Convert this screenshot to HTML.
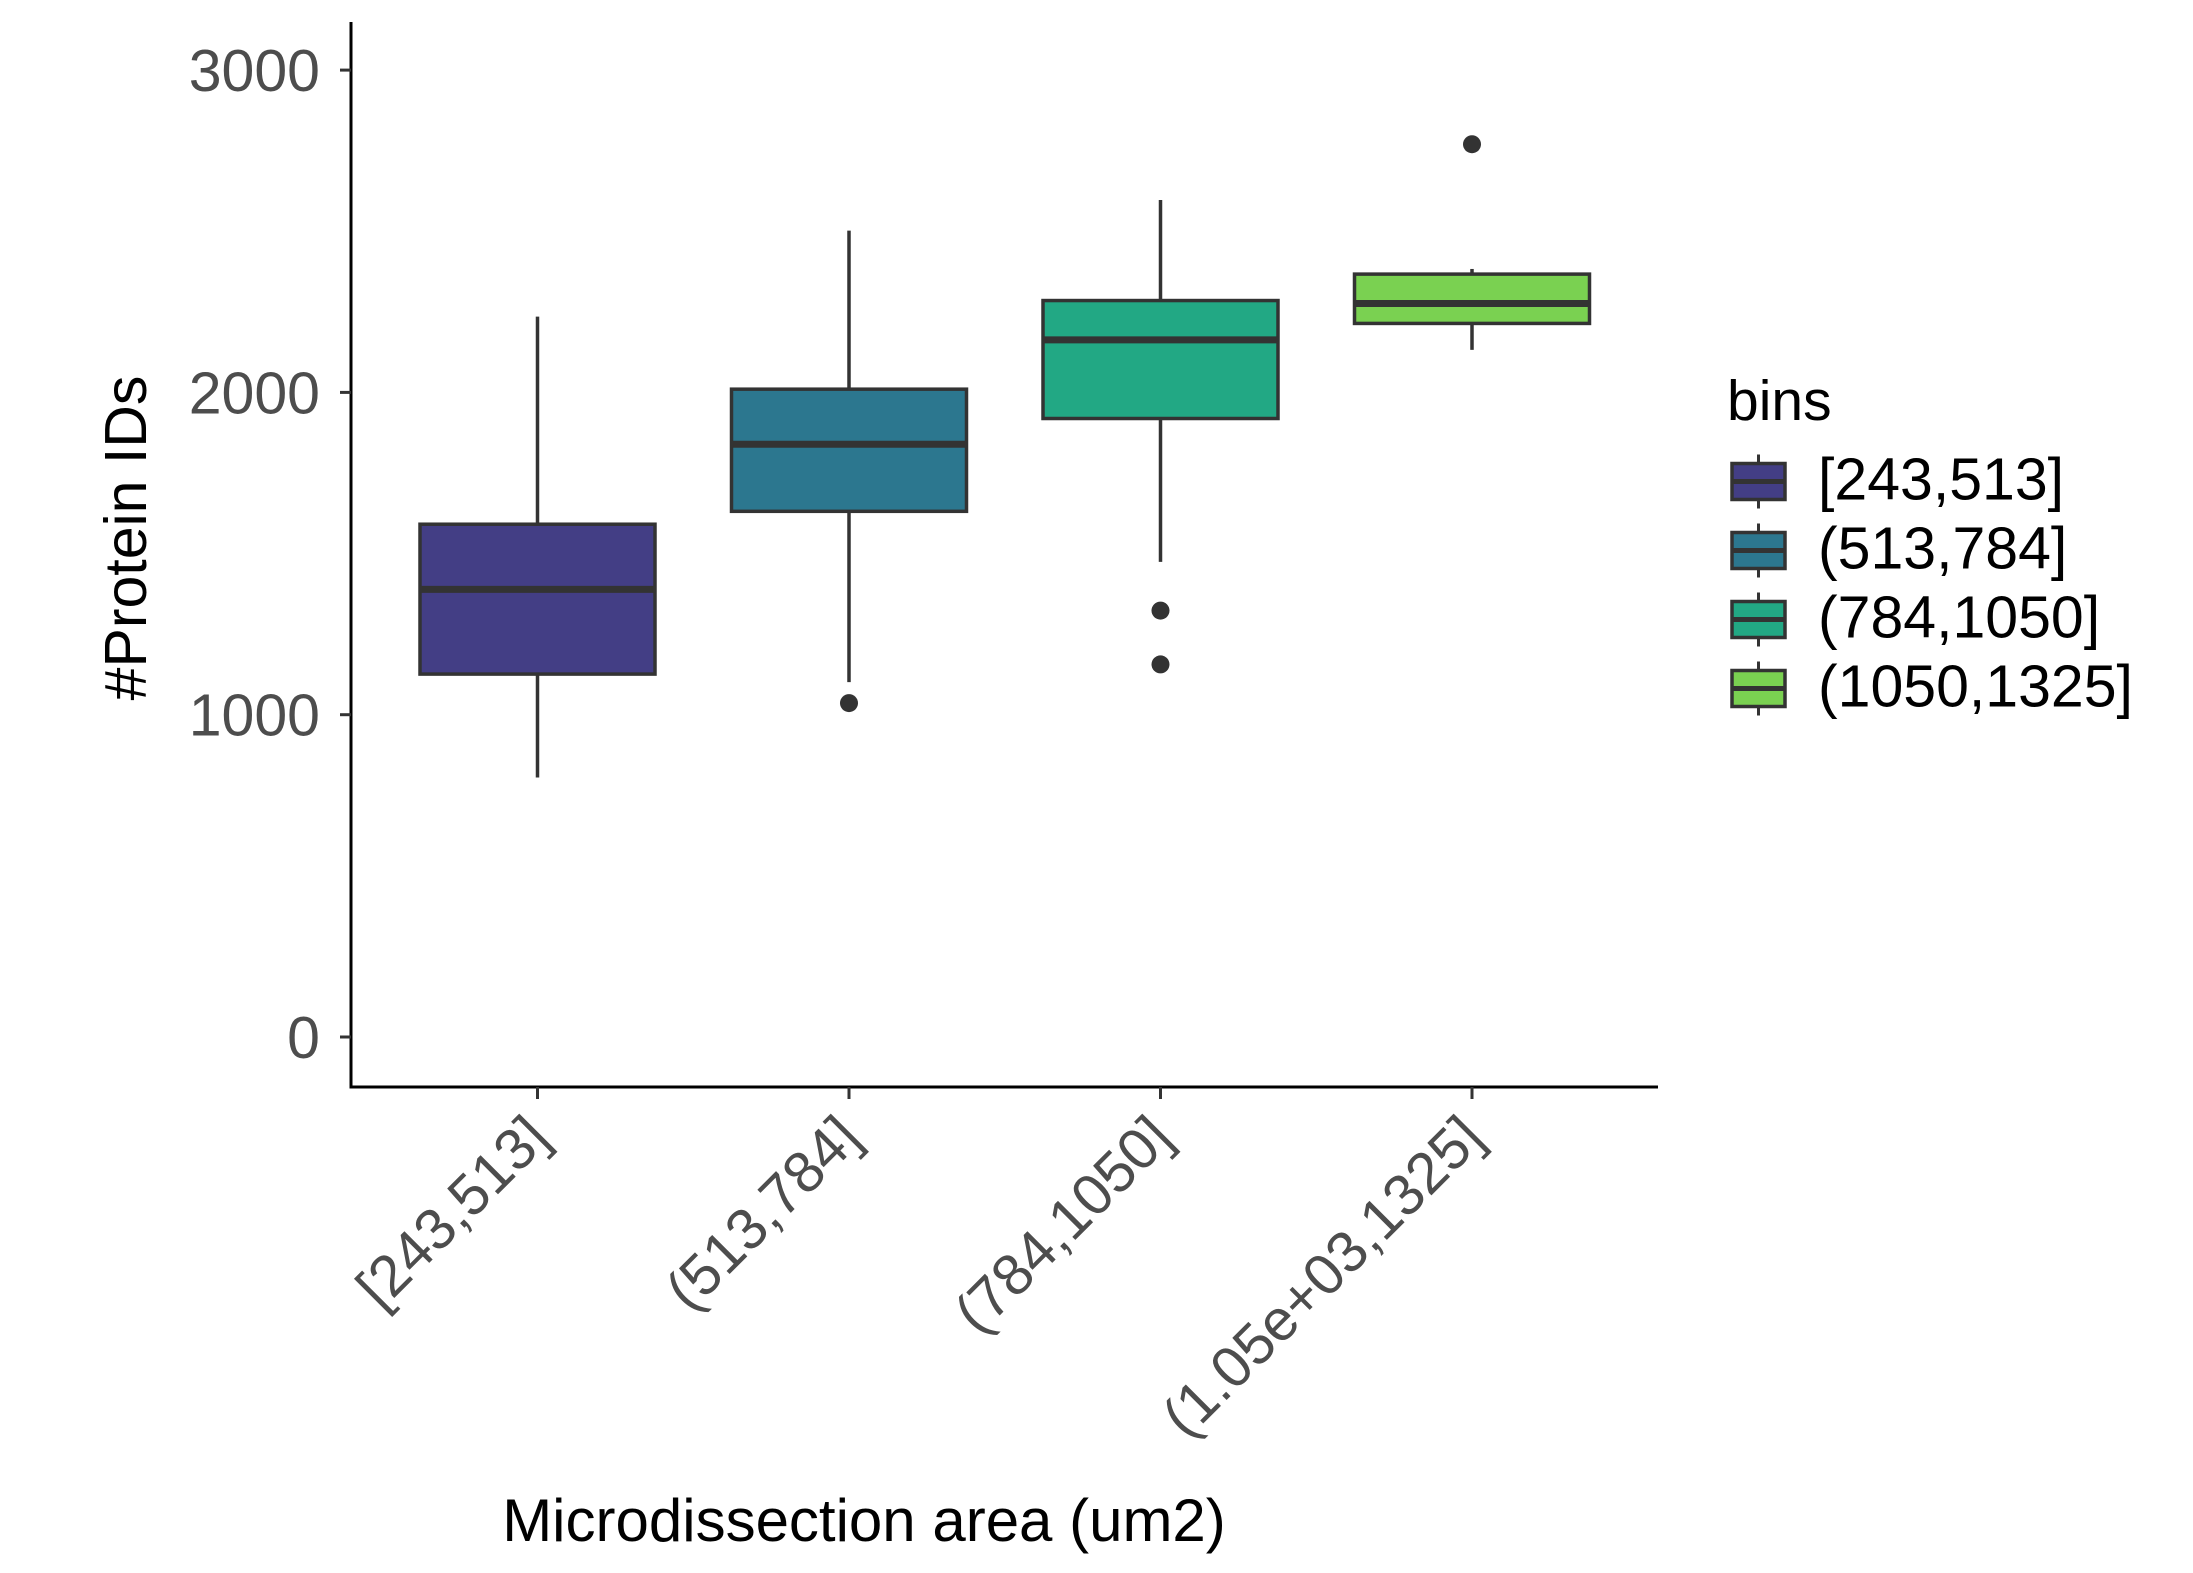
<!DOCTYPE html>
<html><head><meta charset="utf-8"><style>
html,body{margin:0;padding:0;background:#fff;}
svg{display:block;font-family:"Liberation Sans",Arial,sans-serif;}
</style></head><body>
<svg id="chart" width="2193" height="1573" viewBox="0 0 2193 1573">
<rect width="2193" height="1573" fill="#fff"/>
<g id="plot"></g>
<g id="axes"></g>
<g id="legend"></g>
</svg>
<script>
const categories = ["[243,513]", "(513,784]", "(784,1050]", "(1.05e+03,1325]"];
const legendLabels = ["[243,513]", "(513,784]", "(784,1050]", "(1050,1325]"];
const colors = ["#433e85", "#2c778f", "#22a884", "#7ad151"];
const whiskerLow = [805, 1101, 1474, 2132];
const q1 = [1126, 1631, 1919, 2214];
const medians = [1389, 1839, 2163, 2276];
const q3 = [1591, 2010, 2285, 2367];
const whiskerHigh = [2235, 2502, 2597, 2383];
const outliers = [[], [1036], [1323, 1156], [2770]];
const yTicks = [0, 1000, 2000, 3000];

const NS = "http://www.w3.org/2000/svg";
function mk(tag, attrs, parent, text) {
  const e = document.createElementNS(NS, tag);
  for (const k in attrs) e.setAttribute(k, attrs[k]);
  if (text !== undefined) e.textContent = text;
  parent.appendChild(e);
  return e;
}
const X0 = 351, X1 = 1658, Y0 = 22, YB = 1087;
const xScale = i => 537.5 + i * 311.5;
const yScale = v => 1037 - v * 0.3223;
const boxW = 235;
const plot = document.getElementById('plot');
const axes = document.getElementById('axes');
const legend = document.getElementById('legend');

categories.forEach((c, i) => {
  const cx = xScale(i);
  const g = mk('g', {}, plot);
  
  
  const w1 = mk('line', {x1: cx, x2: cx, y1: yScale(whiskerHigh[i]), y2: yScale(q3[i]), stroke: '#333', 'stroke-width': 3.5}, g);
  
  
  const w2 = mk('line', {x1: cx, x2: cx, y1: yScale(q1[i]), y2: yScale(whiskerLow[i]), stroke: '#333', 'stroke-width': 3.5}, g);
  
  
  const r = mk('rect', {x: cx - boxW / 2, y: yScale(q3[i]), width: boxW, height: yScale(q1[i]) - yScale(q3[i]), fill: colors[i], stroke: '#333', 'stroke-width': 3.5}, g);
  
  
  const m = mk('line', {x1: cx - boxW / 2, x2: cx + boxW / 2, y1: yScale(medians[i]), y2: yScale(medians[i]), stroke: '#333', 'stroke-width': 7}, g);
  
  
  outliers[i].forEach(v => {
    const p = mk('circle', {cx: cx, cy: yScale(v), r: 9, fill: '#333'}, g);
    
    
  });
});

const ya = mk('line', {x1: X0, x2: X0, y1: Y0, y2: YB + 1.5, stroke: '#000', 'stroke-width': 3}, axes);


const xa = mk('line', {x1: X0 - 1.5, x2: X1, y1: YB, y2: YB, stroke: '#000', 'stroke-width': 3}, axes);


yTicks.forEach(t => {
  const y = yScale(t);
  const tk = mk('line', {x1: 340, x2: X0, y1: y, y2: y, stroke: '#333', 'stroke-width': 3}, axes);
  
  
  const tl = mk('text', {x: 320, y: y + 21, 'text-anchor': 'end', 'font-size': 59, fill: '#4d4d4d'}, axes, String(t));
  
  
});
categories.forEach((c, i) => {
  const x = xScale(i);
  const tk = mk('line', {x1: x, x2: x, y1: YB, y2: YB + 12, stroke: '#333', 'stroke-width': 3}, axes);
  
  
  const ax = x - 16, ay = 1110;
  const tl = mk('text', {x: ax, y: ay, dy: '0.74em', 'text-anchor': 'end', 'font-size': 58, fill: '#4d4d4d', transform: `rotate(-45 ${ax} ${ay})`}, axes, c);
  
  
});
const xt = mk('text', {x: 864, y: 1541, 'text-anchor': 'middle', 'font-size': 60, fill: '#000'}, axes, 'Microdissection area (um2)');


const yt = mk('text', {x: 0, y: 0, 'text-anchor': 'middle', 'font-size': 59, fill: '#000', transform: 'translate(146 538) rotate(-90)'}, axes, '#Protein IDs');



const lt = mk('text', {x: 1727, y: 420, 'font-size': 57, fill: '#000'}, legend, 'bins');


legendLabels.forEach((l, i) => {
  const cy = 481.5 + i * 69;
  const g = mk('g', {}, legend);
  
  
  mk('line', {x1: 1758.5, x2: 1758.5, y1: cy - 27, y2: cy + 27, stroke: '#333', 'stroke-width': 3}, g);
  mk('rect', {x: 1732, y: cy - 18, width: 53, height: 36, fill: colors[i], stroke: '#333', 'stroke-width': 3.5}, g);
  mk('line', {x1: 1732, x2: 1785, y1: cy, y2: cy, stroke: '#333', 'stroke-width': 5}, g);
  const tx = mk('text', {x: 1818, y: cy + 18, 'font-size': 59, fill: '#000'}, g, l);
  
  
});
</script>
</body></html>
